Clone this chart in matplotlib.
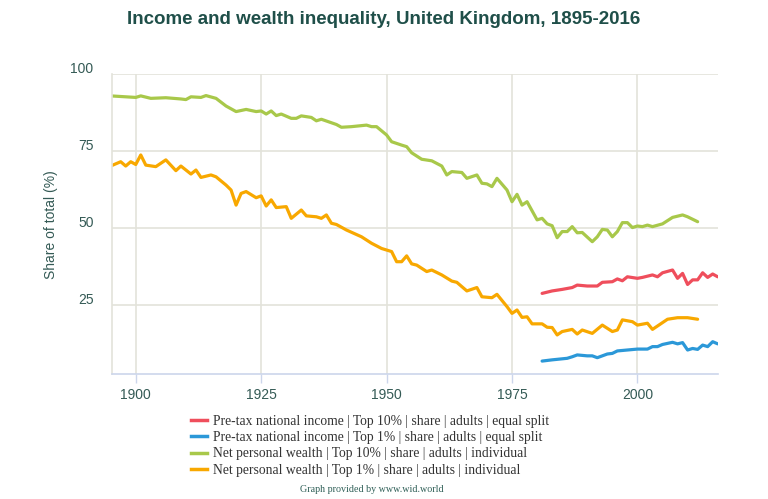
import matplotlib
matplotlib.use("Agg")
import matplotlib.pyplot as plt
from matplotlib.lines import Line2D
from matplotlib.transforms import ScaledTranslation

# ---- data ----
w10_years = [1895, 1900, 1901, 1903, 1906, 1909, 1910, 1911, 1913, 1914, 1916, 1918, 1920, 1922,
             1924, 1925, 1926, 1927, 1928, 1929, 1931, 1932, 1933, 1935, 1936, 1937, 1940, 1941,
             1943, 1946, 1947, 1948, 1950, 1951, 1953, 1954, 1955, 1957, 1959, 1961, 1962, 1963,
             1965, 1966, 1968, 1969, 1970, 1971, 1972, 1974, 1975, 1976, 1977, 1978, 1980, 1981,
             1982, 1983, 1984, 1985, 1986, 1987, 1988, 1989, 1991, 1992, 1993, 1994, 1995, 1996,
             1997, 1998, 1999, 2000, 2001, 2002, 2003, 2005, 2007, 2009, 2010, 2012]
w10_vals = [93.0, 92.5, 93.0, 92.2, 92.4, 92.0, 91.8, 92.7, 92.5, 93.1, 92.2, 89.7, 87.9, 88.6,
            87.9, 88.1, 87.1, 88.1, 86.6, 87.1, 85.7, 85.7, 86.5, 86.0, 84.9, 85.4, 83.7, 82.8,
            83.0, 83.5, 83.0, 83.0, 80.3, 78.1, 77.0, 76.5, 74.5, 72.4, 71.9, 70.2, 67.3, 68.4,
            68.1, 66.2, 67.3, 64.6, 64.4, 63.5, 66.2, 62.4, 58.6, 61.0, 57.5, 58.6, 52.7, 53.2,
            51.4, 50.8, 46.9, 48.9, 48.9, 50.5, 48.5, 48.6, 45.6, 47.2, 49.6, 49.4, 47.2, 48.9,
            51.8, 51.8, 50.2, 50.7, 50.5, 51.0, 50.5, 51.4, 53.5, 54.3, 53.7, 52.1]

w1_years = [1895, 1897, 1898, 1899, 1900, 1901, 1902, 1904, 1906, 1908, 1909, 1911, 1912, 1913,
            1915, 1916, 1918, 1919, 1920, 1921, 1922, 1924, 1925, 1926, 1927, 1928, 1930, 1931,
            1933, 1934, 1936, 1937, 1938, 1939, 1940, 1942, 1945, 1947, 1949, 1951, 1952, 1953,
            1954, 1955, 1956, 1958, 1959, 1961, 1963, 1964, 1966, 1968, 1969, 1971, 1972, 1974,
            1975, 1976, 1977, 1978, 1979, 1981, 1982, 1983, 1984, 1985, 1987, 1988, 1989, 1991,
            1993, 1995, 1996, 1997, 1999, 2000, 2002, 2003, 2004, 2006, 2008, 2010, 2012]
w1_vals = [70.2, 71.6, 70.2, 71.6, 70.7, 73.8, 70.5, 70.0, 72.2, 68.7, 70.2, 67.6, 68.9, 66.5,
           67.3, 66.7, 64.0, 62.4, 57.5, 61.3, 61.9, 59.9, 60.5, 57.2, 59.2, 56.7, 57.0, 53.2,
           55.9, 54.0, 53.7, 53.2, 54.3, 51.6, 51.2, 49.4, 47.2, 45.1, 43.4, 42.4, 39.1, 39.1,
           41.0, 38.4, 38.0, 35.9, 36.4, 34.8, 32.8, 32.4, 29.6, 30.7, 27.7, 27.4, 28.5, 24.5,
           22.3, 23.4, 21.0, 21.2, 18.9, 18.9, 17.8, 17.7, 15.3, 16.4, 17.1, 15.6, 16.9, 15.8,
           18.5, 16.4, 16.9, 20.2, 19.6, 18.5, 19.1, 17.1, 18.2, 20.4, 20.9, 20.9, 20.4]

i10_years = [1981, 1983, 1985, 1987, 1988, 1990, 1992, 1993, 1995, 1996, 1997, 1998, 2000, 2001,
             2003, 2004, 2005, 2007, 2008, 2009, 2010, 2011, 2012, 2013, 2014, 2015, 2016]
i10_vals = [28.8, 29.6, 30.1, 30.7, 31.5, 31.2, 31.2, 32.4, 32.6, 33.5, 32.9, 34.2, 33.7, 34.0,
            34.8, 34.2, 35.5, 36.4, 33.7, 35.3, 31.7, 33.2, 33.2, 35.5, 34.0, 35.1, 34.2]

i1_years = [1981, 1983, 1986, 1987, 1988, 1990, 1991, 1992, 1994, 1995, 1996, 1998, 2000, 2002,
            2003, 2004, 2005, 2007, 2008, 2009, 2010, 2011, 2012, 2013, 2014, 2015, 2016]
i1_vals = [6.8, 7.2, 7.7, 8.2, 8.8, 8.5, 8.5, 7.9, 9.1, 9.3, 10.1, 10.4, 10.7, 10.7,
           11.5, 11.5, 12.2, 12.9, 12.4, 12.8, 10.4, 10.9, 10.6, 12.0, 11.5, 13.1, 12.4]

labels = ["Pre-tax national income | Top 10% | share | adults | equal split",
          "Pre-tax national income | Top 1% | share | adults | equal split",
          "Net personal wealth | Top 10% | share | adults | individual",
          "Net personal wealth | Top 1% | share | adults | individual"]
colors = ["#ef4e5c", "#2b98d8", "#a8c84a", "#f8a800"]
x_ticks = [1900, 1925, 1950, 1975, 2000]
y_ticks = [25, 50, 75, 100]

# ---- figure ----
fig = plt.figure(figsize=(7.68, 4.99), dpi=100)
ax = fig.add_axes([0.1454, 0.2505, 0.7891, 0.6005])

series = [(i10_years, i10_vals), (i1_years, i1_vals), (w10_years, w10_vals), (w1_years, w1_vals)]
handles = []
for (xs, ys), c, lab in zip(series, colors, labels):
    ax.plot(xs, ys, color=c, lw=2.3, solid_joinstyle="round", solid_capstyle="round", label=lab)
    handles.append(Line2D([0], [0], color=c, lw=2.5))

ax.set_xlim(1895.2, 2016)
ax.set_ylim(2.6, 100)
ax.set_xticks(x_ticks)
ax.set_yticks(y_ticks)
ax.grid(True, color="#e3e3da", lw=1.2)
ax.set_axisbelow(True)
for s in ["top", "right"]:
    ax.spines[s].set_visible(False)
ax.spines["left"].set_color("#e3e3da")
ax.spines["left"].set_linewidth(1.2)
ax.spines["bottom"].set_color("#ccd6eb")
ax.spines["bottom"].set_linewidth(1.2)
tick_color = "#345a55"
ax.tick_params(axis="y", length=0, pad=13, labelsize=10, labelcolor=tick_color)
ax.tick_params(axis="x", length=6.5, color="#ccd6eb", width=1, pad=3.5, labelsize=10, labelcolor=tick_color)
for t in ax.get_xticklabels() + ax.get_yticklabels():
    t.set_family("Liberation Sans")
shift = ScaledTranslation(0, 7 / 100, fig.dpi_scale_trans)
for t in ax.get_yticklabels():
    t.set_transform(t.get_transform() + shift)
ax.set_ylabel("Share of total (%)", fontsize=10, color=tick_color, family="Liberation Sans", labelpad=9)

fig.text(0.4994, 0.96, "Income and wealth inequality, United Kingdom, 1895-2016",
         ha="center", va="center", fontsize=13.5, fontweight="bold", color="#1f4f49",
         family="Liberation Sans")

fig.legend(handles, labels, loc="upper left", bbox_to_anchor=(0.2487, 0.169), frameon=False,
           prop={"family": "Liberation Serif", "size": 9.8}, handlelength=1.15, handletextpad=0.45,
           labelspacing=0.25, borderaxespad=0, borderpad=0, labelcolor="#333333")

fig.text(0.4845, 0.0194, "Graph provided by www.wid.world", ha="center", va="center",
         fontsize=7.2, color="#2f5f57", family="Liberation Serif")

fig.savefig("out.png", dpi=100)
